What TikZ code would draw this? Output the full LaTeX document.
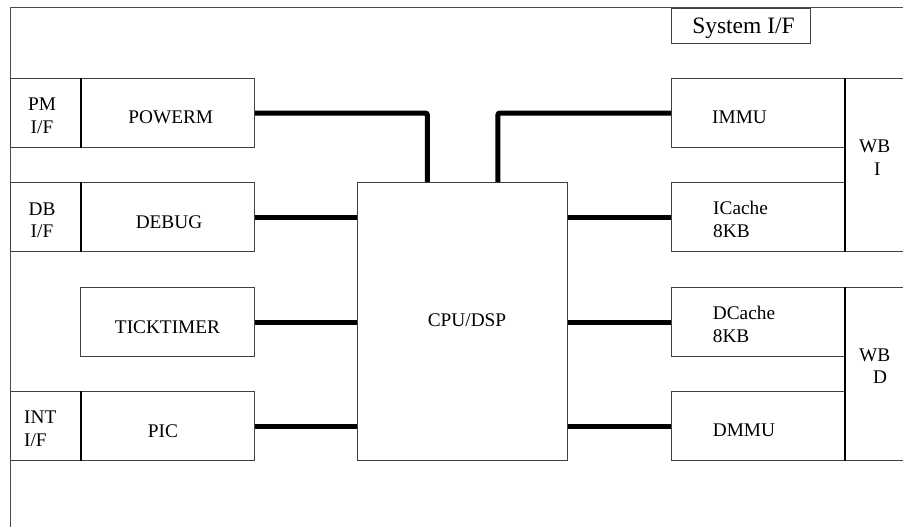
\documentclass[tikz,border=0pt]{standalone}
\usepackage{fontspec}
\setmainfont{Liberation Serif}
\usetikzlibrary{calc}
\begin{document}
\begin{tikzpicture}[x=1pt,y=-1pt,
  box/.style={draw=black!75, line width=1.2pt, anchor=north west, inner sep=0pt, fill=white},
  divider/.style={line width=2pt, black},
  conn/.style={line width=5pt, black, rounded corners=2pt},
  txt/.style={inner sep=0pt, font=\fontsize{19.3}{22.3}\selectfont},
  frame/.style={draw=black!70, line width=1pt}]
\useasboundingbox (0,0) rectangle (903,527);
\clip (0,0) rectangle (903,527);
% outer frame
\draw[frame] (10,560) -- (10,8) -- (950,8);
% boxes
\node[box, minimum width=70pt, minimum height=69pt] (pmif) at (10,78) {};
\node[box, minimum width=174pt, minimum height=69pt] (powerm) at (80,78) {};
\node[box, minimum width=70pt, minimum height=69pt] (dbif) at (10,182) {};
\node[box, minimum width=174pt, minimum height=69pt] (debug) at (80,182) {};
\node[box, minimum width=174pt, minimum height=69pt] (tick) at (80,287) {};
\node[box, minimum width=70pt, minimum height=69pt] (intif) at (10,391) {};
\node[box, minimum width=174pt, minimum height=69pt] (pic) at (80,391) {};
\node[box, minimum width=210pt, minimum height=278pt] (cpu) at (357,182) {};
\node[box, minimum width=139pt, minimum height=35pt] (sysif) at (671,8) {};
\node[box, minimum width=174pt, minimum height=69pt] (immu) at (671,78) {};
\node[box, minimum width=174pt, minimum height=69pt] (icache) at (671,182) {};
\node[box, minimum width=90pt, minimum height=173pt] (wbi) at (845,78) {};
\node[box, minimum width=174pt, minimum height=69pt] (dcache) at (671,287) {};
\node[box, minimum width=174pt, minimum height=69pt] (dmmu) at (671,391) {};
\node[box, minimum width=90pt, minimum height=173pt] (wbd) at (845,287) {};
% dividers
\draw[divider] (pmif.north east) -- (pmif.south east);
\draw[divider] (dbif.north east) -- (dbif.south east);
\draw[divider] (intif.north east) -- (intif.south east);
\draw[divider] (wbi.north west) -- (wbi.south west);
\draw[divider] (wbd.north west) -- (wbd.south west);
% connectors
\coordinate (cpuA) at ($(cpu.north west)!1/3!(cpu.north east)$);
\coordinate (cpuB) at ($(cpu.north west)!2/3!(cpu.north east)$);
\draw[conn] (powerm.east) -| (cpuA);
\draw[conn] (immu.west) -| (cpuB);
\draw[conn] (debug.east) -- (debug.east -| cpu.west);
\draw[conn] (tick.east) -- (tick.east -| cpu.west);
\draw[conn] (pic.east) -- (pic.east -| cpu.west);
\draw[conn] (icache.west) -- (icache.west -| cpu.east);
\draw[conn] (dcache.west) -- (dcache.west -| cpu.east);
\draw[conn] (dmmu.west) -- (dmmu.west -| cpu.east);
% texts (multi-line nodes: base = last line's baseline)
\node[txt, anchor=base, align=center] (pmifT) at (42,133) {PM\\I/F};
\node[txt, anchor=base] (powermT) at (170.8,124) {POWERM};
\node[txt, anchor=base, align=center] (dbifT) at (42,237.3) {DB\\I/F};
\node[txt, anchor=base] (debugT) at (169,228.3) {DEBUG};
\node[txt, anchor=base] (tickT) at (167.5,333.3) {TICKTIMER};
\node[txt, anchor=base west, align=left] (intifT) at (24,446) {INT\\I/F};
\node[txt, anchor=base] (picT) at (163,437.3) {PIC};
\node[txt, anchor=base] (cpuT) at (467,326.7) {CPU/DSP};
\node[inner sep=0pt, font=\fontsize{23.5}{26}\selectfont, anchor=base] (sysifT) at (743.5,33.3) {System I/F};
\node[txt, anchor=base west] (immuT) at (712,124) {IMMU};
\node[txt, anchor=base west, align=left] (icacheT) at (713,237) {ICache\\8KB};
\node[txt, anchor=base west, align=left] (wbiT) at (859,175) {WB\\\hspace*{15pt}I};
\node[txt, anchor=base west, align=left] (dcacheT) at (712.7,342) {DCache\\8KB};
\node[txt, anchor=base west] (dmmuT) at (712.7,436.7) {DMMU};
\node[txt, anchor=base west, align=left] (wbdT) at (859,383.5) {WB\\\hspace*{14pt}D};
\end{tikzpicture}
\end{document}
